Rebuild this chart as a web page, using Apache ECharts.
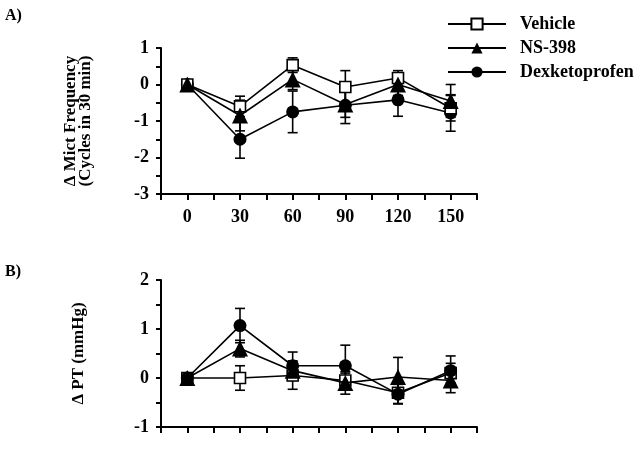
<!DOCTYPE html>
<html><head><meta charset="utf-8">
<script src="https://cdn.jsdelivr.net/npm/echarts@6/dist/echarts.min.js"></script>
<style>html,body{margin:0;padding:0;background:#fff}#c{width:640px;height:455px}</style>
</head><body><div id="c"></div>
<script>
var times = [0, 30, 60, 90, 120, 150];
var xTicks = [0, 30, 60, 90, 120, 150];
var seriesNames = ['Vehicle', 'NS-398', 'Dexketoprofen'];

var vehA = [0, -0.6, 0.53, -0.07, 0.18, -0.65];
var vehA_se = [0.05, 0.28, 0.2, 0.45, 0.2, 0.35];
var nsA = [0, -0.85, 0.14, -0.55, 0.0, -0.45];
var nsA_se = [0.05, 0.42, 0.28, 0.35, 0.3, 0.45];
var dexA = [0, -1.5, -0.75, -0.57, -0.42, -0.78];
var dexA_se = [0.05, 0.52, 0.57, 0.5, 0.45, 0.5];

var vehB = [0, 0.0, 0.05, -0.05, -0.3, 0.1];
var vehB_se = [0.03, 0.25, 0.28, 0.15, 0.22, 0.2];
var nsB = [0, 0.6, 0.15, -0.1, 0.02, -0.05];
var nsB_se = [0.03, 0.17, 0.2, 0.23, 0.4, 0.25];
var dexB = [0, 1.07, 0.25, 0.25, -0.33, 0.15];
var dexB_se = [0.03, 0.35, 0.28, 0.42, 0.2, 0.3];

var sigB = [[30, 1.72]];

var FONT = 'Liberation Serif';
function pts(v){ return times.map(function(t,i){ return [t, v[i]]; }); }
function errs(v, se){ return times.map(function(t,i){ return [t, v[i] - se[i], v[i] + se[i]]; }); }

function errSeries(v, se, gi){
  return {
    type: 'custom', xAxisIndex: gi, yAxisIndex: gi, z: 1, silent: true,
    data: errs(v, se),
    encode: { x: 0, y: [1, 2] },
    renderItem: function(params, api){
      var x = api.value(0);
      var lo = api.coord([x, api.value(1)]);
      var hi = api.coord([x, api.value(2)]);
      var w = 5;
      var st = { stroke: '#000', lineWidth: 1.6 };
      return { type: 'group', children: [
        { type: 'line', shape: { x1: lo[0], y1: lo[1], x2: hi[0], y2: hi[1] }, style: st },
        { type: 'line', shape: { x1: lo[0]-w, y1: lo[1], x2: lo[0]+w, y2: lo[1] }, style: st },
        { type: 'line', shape: { x1: hi[0]-w, y1: hi[1], x2: hi[0]+w, y2: hi[1] }, style: st }
      ]};
    }
  };
}
function lineSeries(name, v, gi, kind, z){
  var sym = kind === 0 ? 'rect' : (kind === 1 ? 'triangle' : 'circle');
  return {
    name: name, type: 'line', xAxisIndex: gi, yAxisIndex: gi, z: z,
    data: pts(v), symbol: sym, symbolSize: kind === 0 ? 11 : (kind === 1 ? 16 : 13),
    showAllSymbol: true,
    lineStyle: { color: '#000', width: 1.6 },
    itemStyle: { color: kind === 0 ? '#fff' : '#000', borderColor: '#000', borderWidth: kind === 0 ? 1.6 : 0, opacity: 1 },
    emphasis: { disabled: true }, animation: false
  };
}
function xAxis(gi){
  return {
    type: 'value', gridIndex: gi, min: -15, max: 165, interval: 15,
    axisLine: { onZero: false, lineStyle: { color: '#000', width: 2 } },
    axisTick: { show: true, length: 6, inside: false, lineStyle: { color: '#000', width: 2 } },
    splitLine: { show: false },
    axisLabel: { show: gi === 0, margin: 14, color: '#000', fontFamily: FONT, fontWeight: 'bold', fontSize: 18,
      formatter: function(v){ return xTicks.indexOf(v) >= 0 ? String(v) : ''; } }
  };
}
function yAxis(gi, min, max, name, gap){
  return {
    type: 'value', gridIndex: gi, min: min, max: max, interval: 0.5,
    name: name, nameLocation: 'middle', nameGap: gap, nameRotate: 90,
    nameTextStyle: { color: '#000', fontFamily: FONT, fontWeight: 'bold', fontSize: 17, lineHeight: 15 },
    axisLine: { onZero: false, lineStyle: { color: '#000', width: 2 } },
    axisTick: { show: true, length: 5, lineStyle: { color: '#000', width: 2 } },
    splitLine: { show: false },
    axisLabel: { margin: 12, color: '#000', fontFamily: FONT, fontWeight: 'bold', fontSize: 18,
      formatter: function(v){ return Number.isInteger(v) ? String(v) : ''; } }
  };
}

var chart = echarts.init(document.getElementById('c'), null, { renderer: 'canvas' });
chart.setOption({
  animation: false,
  backgroundColor: '#fff',
  title: [
    { text: 'A)', left: 0, top: 3, textStyle: { fontFamily: FONT, fontWeight: 'bold', fontSize: 16, color: '#000' } },
    { text: 'B)', left: 0, top: 259, textStyle: { fontFamily: FONT, fontWeight: 'bold', fontSize: 16, color: '#000' } }
  ],
  legend: {
    data: seriesNames, orient: 'vertical', left: 442, top: 10, itemWidth: 58, itemHeight: 14, itemGap: 6,
    selectedMode: false,
    textStyle: { fontFamily: FONT, fontWeight: 'bold', fontSize: 18, color: '#000', padding: [0, 0, 0, 9] }
  },
  grid: [
    { left: 161, right: 163, top: 48, height: 146 },
    { left: 161, right: 163, top: 280, height: 147 }
  ],
  xAxis: [xAxis(0), xAxis(1)],
  yAxis: [
    yAxis(0, -3, 1, 'Δ Mict Frequency\n(Cycles in 30 min)', 68),
    yAxis(1, -1, 2, 'Δ PT (mmHg)', 75)
  ],
  series: [
    errSeries(vehA, vehA_se, 0), errSeries(nsA, nsA_se, 0), errSeries(dexA, dexA_se, 0),
    lineSeries('Dexketoprofen', dexA, 0, 2, 3),
    lineSeries('Vehicle', vehA, 0, 0, 4),
    lineSeries('NS-398', nsA, 0, 1, 5),
    errSeries(vehB, vehB_se, 1), errSeries(nsB, nsB_se, 1), errSeries(dexB, dexB_se, 1),
    lineSeries('Vehicle', vehB, 1, 0, 3),
    lineSeries('Dexketoprofen', dexB, 1, 2, 4),
    lineSeries('NS-398', nsB, 1, 1, 5),
    { type: 'scatter', xAxisIndex: 1, yAxisIndex: 1, data: sigB, symbolSize: 1, itemStyle: { opacity: 0 },
      label: { show: true, formatter: '*', position: 'inside', color: '#000', fontFamily: FONT, fontWeight: 'bold', fontSize: 16 } }
  ]
});
</script></body></html>
